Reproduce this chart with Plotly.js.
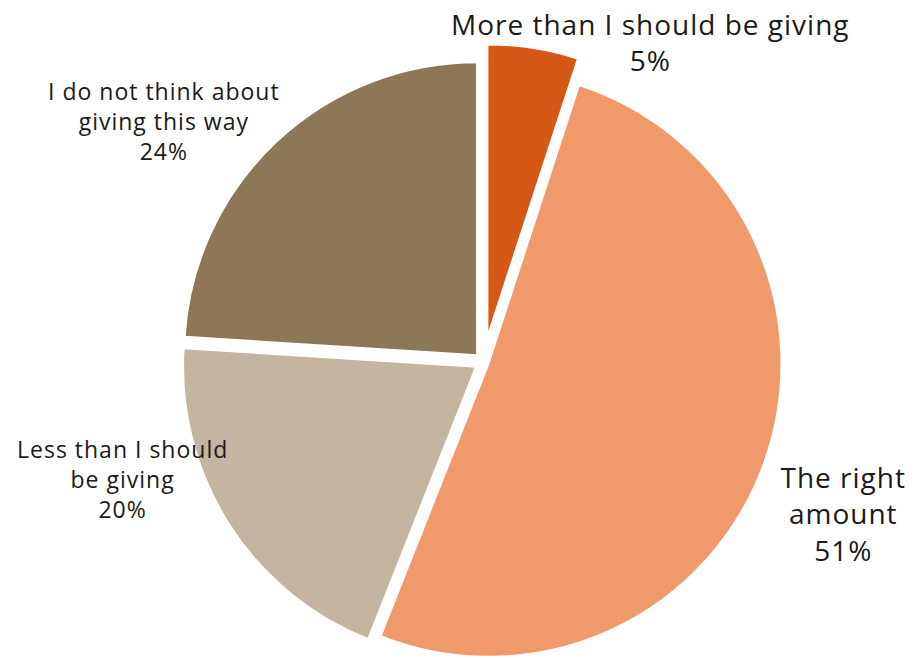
<!DOCTYPE html>
<html>
<head>
<meta charset="utf-8">
<script src="https://cdn.plot.ly/plotly-3.0.1.min.js"></script>
<style>
  html, body { margin: 0; padding: 0; overflow: hidden; background: #fff; }
  #chart { width: 922px; height: 724px; }
  #chart .annotation-text { letter-spacing: 1px; }
</style>
</head>
<body>
<div id="chart"></div>
<script>
// ---- data ----
const categories = [
  "More than I should be giving",
  "The right amount",
  "Less than I should be giving",
  "I do not think about giving this way"
];
const displayLabels = [
  "More than I should be giving",
  "The right<br>amount",
  "Less than I should<br>be giving",
  "I do not think about<br>giving this way"
];
const percentValues = [5, 51, 20, 24];
const sliceColors = ["#D65816", "#F0996B", "#C4B5A0", "#8C7756"];

// ---- style / positions (pixels) ----
const W = 922, H = 724;
const pulls = [0.085, 0.018, 0.03, 0.032];
const labelPos = [
  {x: 650, y: 42, size: 28},
  {x: 843, y: 513, size: 28},
  {x: 122, y: 479, size: 23},
  {x: 164, y: 121, size: 23}
];
const cx = 483.5, r = 293;
const maxPull = Math.max(...pulls);
const half = r * (1 + maxPull);

const trace = {
  type: "pie",
  labels: categories,
  values: percentValues,
  sort: false,
  direction: "clockwise",
  rotation: 0,
  pull: pulls,
  textinfo: "none",
  hoverinfo: "label+percent",
  marker: { colors: sliceColors, line: { color: "#ffffff", width: 2 } },
  domain: { x: [(cx - half) / W, (cx + half) / W], y: [0, 1] },
  showlegend: false
};

const annotations = displayLabels.map((lab, i) => ({
  text: lab + "<br>" + percentValues[i] + "%",
  xref: "paper", yref: "paper",
  x: labelPos[i].x / W,
  y: 1 - labelPos[i].y / H,
  xanchor: "center", yanchor: "middle",
  showarrow: false,
  align: "center",
  font: { family: "'Open Sans', sans-serif", size: labelPos[i].size, color: "#1a1a1a" }
}));

Plotly.newPlot("chart", [trace], {
  width: W, height: H,
  margin: { l: 0, r: 0, t: 0, b: 0 },
  paper_bgcolor: "#ffffff",
  plot_bgcolor: "#ffffff",
  annotations: annotations
}, { displayModeBar: false, staticPlot: true });
</script>
</body>
</html>
